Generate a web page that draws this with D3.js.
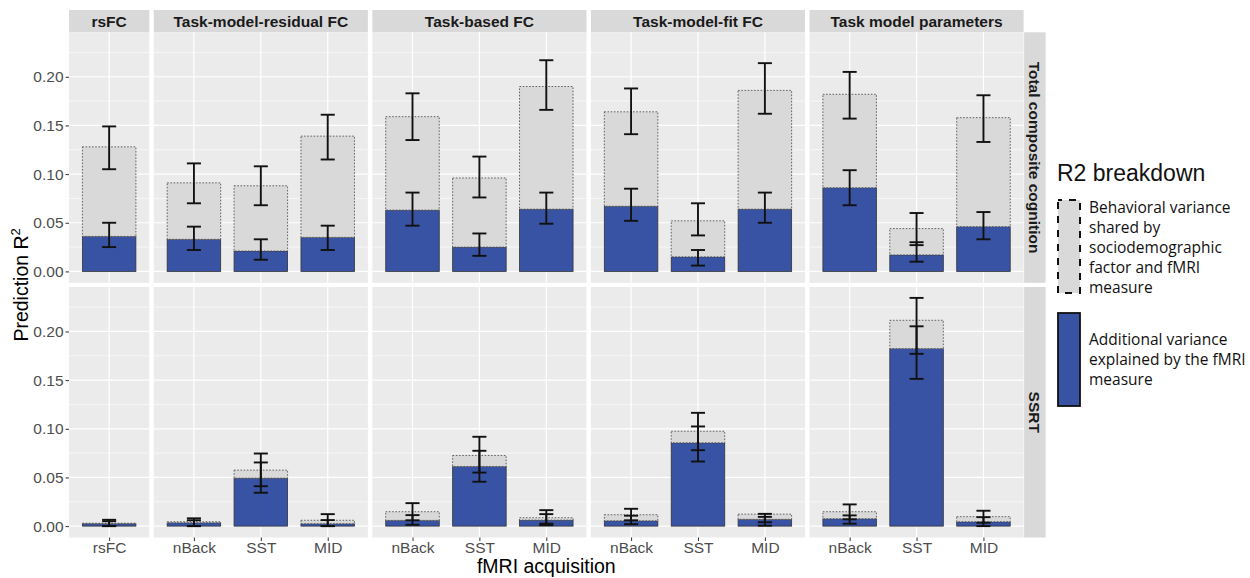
<!DOCTYPE html>
<html>
<head>
<meta charset="utf-8">
<script src="https://cdn.jsdelivr.net/npm/d3@7"></script>
<style>
  body { margin: 0; background: #fff; }
  svg { display: block; }
</style>
</head>
<body>
<div id="chart"></div>
<script>
// facets
const panels = ["rsFC", "Task-model-residual FC", "Task-based FC", "Task-model-fit FC", "Task model parameters"];
const panelTasks = [["rsFC"], ["nBack", "SST", "MID"], ["nBack", "SST", "MID"], ["nBack", "SST", "MID"], ["nBack", "SST", "MID"]];
const outcomes = ["Total composite cognition", "SSRT"];
const yTicks = [0, 0.05, 0.10, 0.15, 0.20];

// bar order: rsFC | TMR nBack SST MID | TB nBack SST MID | TMF nBack SST MID | TMP nBack SST MID
const cogTotal   = [0.128, 0.091, 0.088, 0.139, 0.159, 0.096, 0.190, 0.164, 0.052, 0.186, 0.182, 0.044, 0.158];
const cogTotalLo = [0.105, 0.070, 0.068, 0.115, 0.135, 0.076, 0.166, 0.141, 0.037, 0.162, 0.157, 0.027, 0.133];
const cogTotalHi = [0.149, 0.111, 0.108, 0.161, 0.183, 0.118, 0.217, 0.188, 0.070, 0.214, 0.205, 0.060, 0.181];
const cogFmri    = [0.036, 0.033, 0.021, 0.035, 0.063, 0.025, 0.064, 0.067, 0.015, 0.064, 0.086, 0.017, 0.046];
const cogFmriLo  = [0.025, 0.022, 0.012, 0.022, 0.047, 0.016, 0.049, 0.052, 0.006, 0.050, 0.068, 0.010, 0.033];
const cogFmriHi  = [0.050, 0.046, 0.033, 0.047, 0.081, 0.039, 0.081, 0.085, 0.022, 0.081, 0.104, 0.030, 0.061];

const ssrtTotal   = [0.003, 0.0045, 0.0575, 0.006, 0.0148, 0.0726, 0.0086, 0.0117, 0.0975, 0.0123, 0.0148, 0.2115, 0.0097];
const ssrtTotalLo = [0.000, 0.000, 0.041, 0.000, 0.006, 0.055, 0.0025, 0.006, 0.078, 0.004, 0.007, 0.177, 0.0035];
const ssrtTotalHi = [0.0065, 0.008, 0.0746, 0.0123, 0.0236, 0.0918, 0.0164, 0.0178, 0.1164, 0.0126, 0.0223, 0.2345, 0.0158];
const ssrtFmri    = [0.0025, 0.0035, 0.0493, 0.0025, 0.0059, 0.0613, 0.0062, 0.0055, 0.0856, 0.007, 0.0076, 0.1824, 0.0045];
const ssrtFmriLo  = [0.000, 0.000, 0.0343, 0.000, 0.0014, 0.0456, 0.001, 0.002, 0.0664, 0.0005, 0.0025, 0.1513, 0.000];
const ssrtFmriHi  = [0.005, 0.006, 0.0654, 0.0062, 0.0113, 0.0774, 0.0123, 0.0107, 0.1024, 0.0095, 0.011, 0.2053, 0.0092];

const legendTitle = "R2 breakdown";
const legendShared = ["Behavioral variance", "shared by", "sociodemographic", "factor and fMRI", "measure"];
const legendFmri = ["Additional variance", "explained by the fMRI", "measure"];

const rowData = [
  { total: cogTotal, totalLo: cogTotalLo, totalHi: cogTotalHi, fmri: cogFmri, fmriLo: cogFmriLo, fmriHi: cogFmriHi },
  { total: ssrtTotal, totalLo: ssrtTotalLo, totalHi: ssrtTotalHi, fmri: ssrtFmri, fmriLo: ssrtFmriLo, fmriHi: ssrtFmriHi }
];

const W = 1250, H = 578;
const FONT = "'Liberation Sans', Arial, sans-serif";
const BLUE = "#3853a4";
const GREY = "#d9d9d9";

const unit = 66.9;       // px per discrete x step
const gapX = 4.5;
const left0 = 69;
const stripTop = 10, stripH = 22.3;
const panelH = 250.5, gapY = 4.2;
const rowTop = [stripTop + stripH, stripTop + stripH + panelH + gapY];

const svg = d3.select("#chart").append("svg")
  .attr("width", W).attr("height", H)
  .style("font-family", FONT);

// panel geometry
let xCursor = left0;
const panelGeo = panelTasks.map(tasks => {
  const w = (tasks.length - 1 + 1.2) * unit;
  const g = { x: xCursor, w: w };
  xCursor += w + gapX;
  return g;
});

const y = d3.scaleLinear().domain([-0.0117, 0.2457]);

let barIdx = 0;
const barStart = panelTasks.map(t => { const s = barIdx; barIdx += t.length; return s; });

panels.forEach((name, p) => {
  const geo = panelGeo[p];
  const tasks = panelTasks[p];
  const x = d3.scalePoint().domain(tasks).range([0, geo.w]).padding(0.6);
  const bw = x.step() * 0.8;
  const cap = x.step() * 0.105;   // half width of error bar caps

  // top strip
  const strip = svg.append("g").attr("transform", `translate(${geo.x},${stripTop})`);
  strip.append("rect").attr("width", geo.w).attr("height", stripH).attr("fill", GREY);
  strip.append("text").attr("x", geo.w / 2).attr("y", stripH / 2).attr("dy", "0.36em")
    .attr("text-anchor", "middle").attr("font-weight", "bold").attr("font-size", 15.5)
    .attr("fill", "#1a1a1a").text(name);

  outcomes.forEach((out, r) => {
    const top = rowTop[r];
    y.range([top + panelH, top]);
    const g = svg.append("g").attr("transform", `translate(${geo.x},0)`);
    g.append("rect").attr("y", top).attr("width", geo.w).attr("height", panelH).attr("fill", "#ebebeb");

    // minor grid
    g.selectAll(".minor").data([0.025, 0.075, 0.125, 0.175, 0.225]).join("line")
      .attr("x1", 0).attr("x2", geo.w).attr("y1", d => y(d)).attr("y2", d => y(d))
      .attr("stroke", "#fff").attr("stroke-width", 0.6);
    // major grid
    g.selectAll(".major").data(yTicks).join("line")
      .attr("x1", 0).attr("x2", geo.w).attr("y1", d => y(d)).attr("y2", d => y(d))
      .attr("stroke", "#fff").attr("stroke-width", 1.2);
    g.selectAll(".vmajor").data(tasks).join("line")
      .attr("x1", d => x(d)).attr("x2", d => x(d)).attr("y1", top).attr("y2", top + panelH)
      .attr("stroke", "#fff").attr("stroke-width", 1.2);

    const dat = rowData[r];
    const bars = tasks.map((t, i) => {
      const k = barStart[p] + i;
      return { task: t, total: dat.total[k], tLo: dat.totalLo[k], tHi: dat.totalHi[k],
               fmri: dat.fmri[k], fLo: dat.fmriLo[k], fHi: dat.fmriHi[k] };
    });

    // fMRI (blue) bars
    g.selectAll(".blue").data(bars).join("rect")
      .attr("x", d => x(d.task) - bw / 2).attr("width", bw)
      .attr("y", d => y(d.fmri)).attr("height", d => y(0) - y(d.fmri))
      .attr("fill", BLUE).attr("stroke", "#333").attr("stroke-width", 0.8);
    // shared (grey) part, stacked above
    g.selectAll(".grey").data(bars).join("rect")
      .attr("x", d => x(d.task) - bw / 2).attr("width", bw)
      .attr("y", d => y(d.total)).attr("height", d => y(d.fmri) - y(d.total))
      .attr("fill", GREY).attr("stroke", "#555").attr("stroke-width", 0.9)
      .attr("stroke-dasharray", "1.6,1.6");

    // error bars
    const errs = [];
    bars.forEach(d => {
      errs.push({ task: d.task, lo: d.tLo, hi: d.tHi });
      errs.push({ task: d.task, lo: d.fLo, hi: d.fHi });
    });
    const eg = g.selectAll(".err").data(errs).join("g")
      .attr("stroke", "#111").attr("stroke-width", 1.9).attr("fill", "none");
    eg.append("line").attr("x1", d => x(d.task)).attr("x2", d => x(d.task))
      .attr("y1", d => y(d.lo)).attr("y2", d => y(d.hi));
    eg.append("line").attr("x1", d => x(d.task) - cap).attr("x2", d => x(d.task) + cap)
      .attr("y1", d => y(d.lo)).attr("y2", d => y(d.lo));
    eg.append("line").attr("x1", d => x(d.task) - cap).attr("x2", d => x(d.task) + cap)
      .attr("y1", d => y(d.hi)).attr("y2", d => y(d.hi));

    // y axis on first column
    if (p === 0) {
      const ax = g.append("g").call(d3.axisLeft(y).tickValues(yTicks).tickFormat(d3.format(".2f")).tickSize(3.5).tickPadding(2));
      ax.select(".domain").remove();
      ax.selectAll("line").attr("stroke", "#333");
      ax.selectAll("text").attr("font-size", 15.5).attr("fill", "#4d4d4d").attr("font-family", FONT);
    }
    // x axis on bottom row
    if (r === outcomes.length - 1) {
      const ax = g.append("g").attr("transform", `translate(0,${top + panelH})`)
        .call(d3.axisBottom(x).tickSize(3.5).tickPadding(1));
      ax.select(".domain").remove();
      ax.selectAll("line").attr("stroke", "#333");
      ax.selectAll("text").attr("font-size", 15.5).attr("fill", "#4d4d4d").attr("font-family", FONT);
    }

    // right strips
    if (p === panels.length - 1) {
      const sx = geo.x + geo.w + 0.5;
      const rs = svg.append("g").attr("transform", `translate(${sx},${top})`);
      rs.append("rect").attr("width", 21.5).attr("height", panelH).attr("fill", GREY);
      rs.append("text").attr("transform", `translate(${21.5 / 2},${panelH / 2}) rotate(90)`)
        .attr("dy", "0.36em").attr("text-anchor", "middle").attr("font-weight", "bold")
        .attr("font-size", 15.5).attr("fill", "#1a1a1a").text(out);
    }
  });
});

// axis titles
const plotMid = (left0 + panelGeo[panelGeo.length - 1].x + panelGeo[panelGeo.length - 1].w) / 2;
svg.append("text").attr("x", plotMid).attr("y", 573).attr("text-anchor", "middle")
  .attr("font-size", 19.5).attr("fill", "#000").text("fMRI acquisition");

const yt = svg.append("text")
  .attr("transform", `translate(28,${(rowTop[0] + rowTop[1] + panelH) / 2}) rotate(-90)`)
  .attr("text-anchor", "middle").attr("font-size", 19.5).attr("fill", "#000");
yt.append("tspan").text("Prediction R");
yt.append("tspan").attr("font-size", 13).attr("dy", "-0.6em").text("2");

// legend
const lg = svg.append("g");
lg.append("text").attr("x", 1057).attr("y", 181).attr("font-size", 23).attr("fill", "#111").text(legendTitle);
lg.append("rect").attr("x", 1058).attr("y", 200).attr("width", 22).attr("height", 93)
  .attr("fill", GREY).attr("stroke", "#111").attr("stroke-width", 2).attr("stroke-dasharray", "7,7")
  .attr("stroke-dashoffset", 3);
lg.append("rect").attr("x", 1058).attr("y", 313).attr("width", 22).attr("height", 93)
  .attr("fill", BLUE).attr("stroke", "#111").attr("stroke-width", 1.8);
lg.selectAll(".l1").data(legendShared).join("text")
  .attr("x", 1089).attr("y", (d, i) => 213 + i * 20)
  .attr("font-family", "'Open Sans', sans-serif").attr("font-size", 15.5).attr("fill", "#111").text(d => d);
lg.selectAll(".l2").data(legendFmri).join("text")
  .attr("x", 1089).attr("y", (d, i) => 345 + i * 20)
  .attr("font-family", "'Open Sans', sans-serif").attr("font-size", 15.5).attr("fill", "#111").text(d => d);
</script>
</body>
</html>
